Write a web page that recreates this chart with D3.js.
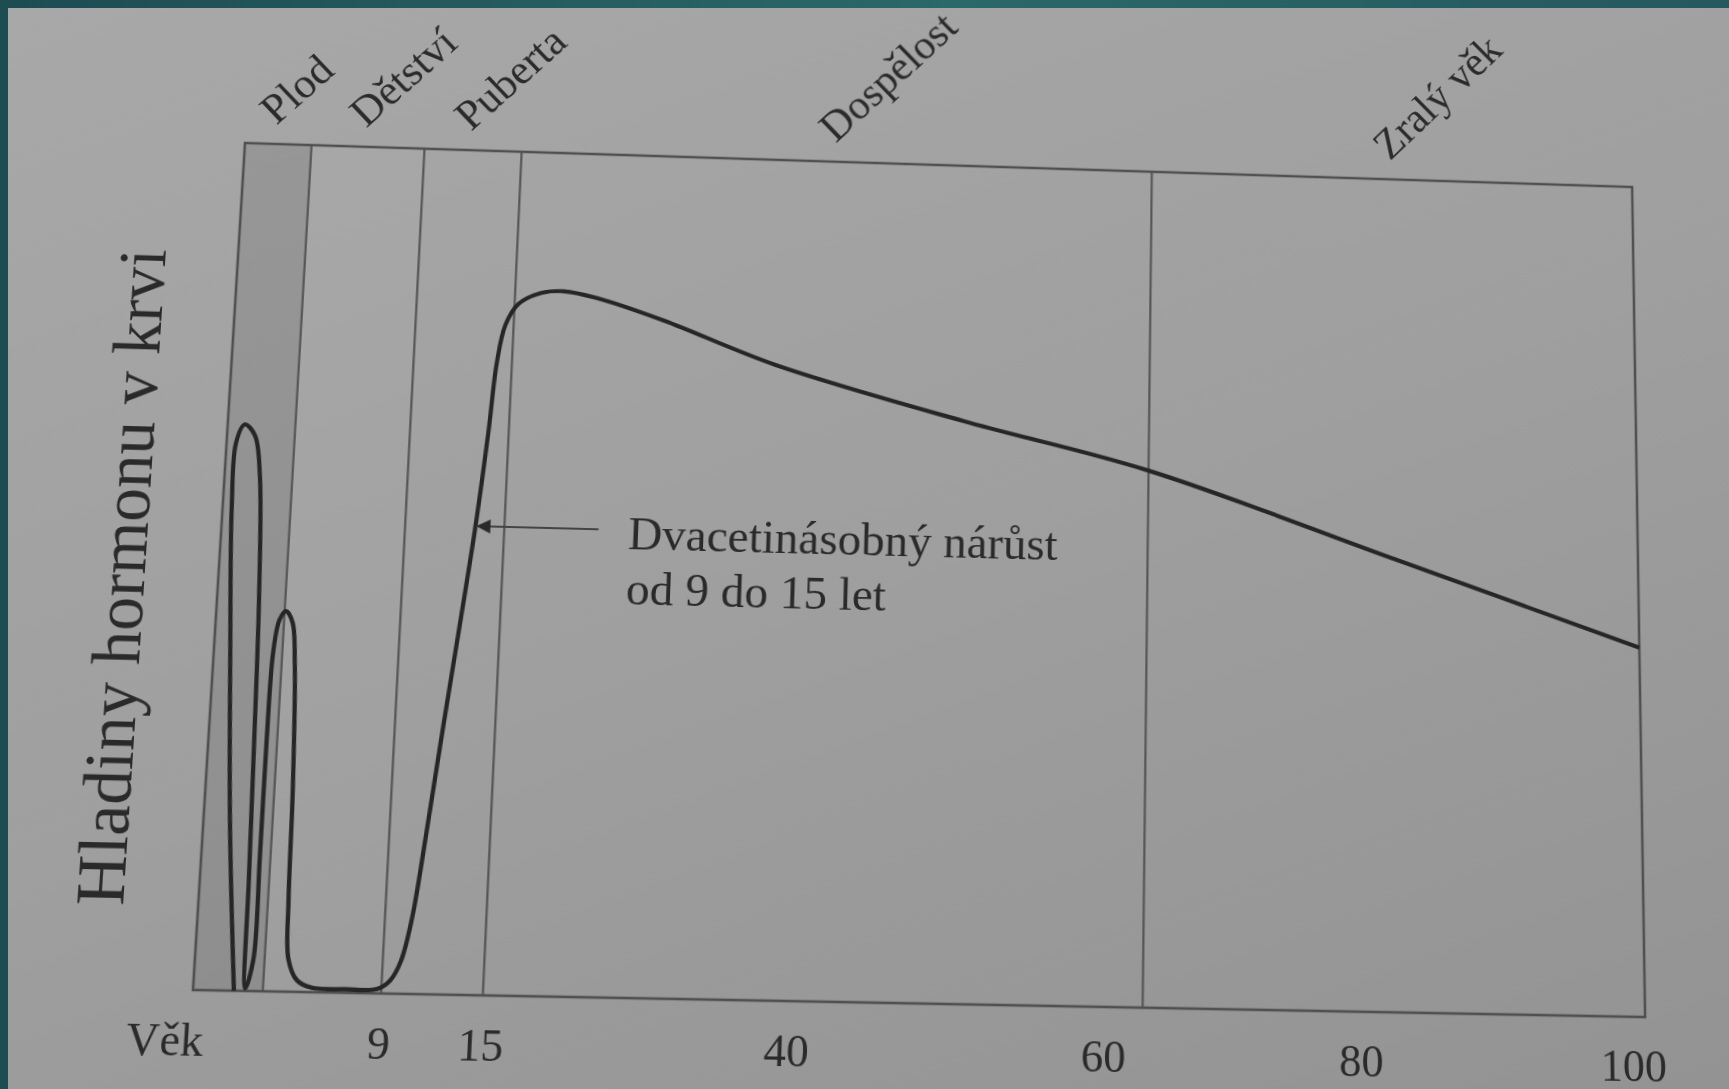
<!DOCTYPE html>
<html>
<head>
<meta charset="utf-8">
<script src="https://cdn.jsdelivr.net/npm/d3@7"></script>
<style>
  html, body { margin: 0; padding: 0; }
  body {
    width: 1729px; height: 1089px; overflow: hidden; position: relative;
    background: linear-gradient(90deg, #1d4c53, #2b6869 55%, #25585f);
  }
  #page {
    position: absolute; left: 8px; top: 8px; right: 0; bottom: 0;
    background: linear-gradient(160deg, #a8a8a8 0%, #9f9f9f 50%, #939393 100%);
  }
  #warp { position: absolute; left: 0; top: 0; transform-origin: 0 0; }
  #warp svg { position: absolute; overflow: visible; filter: blur(0.5px); }
</style>
</head>
<body>
<div id="page"></div>
<div id="warp"></div>
<script>
// Stages of life (age in years, negative = before birth)
var stageNames = ["Plod", "Dětství", "Puberta", "Dospělost", "Zralý věk"];
var stageEdges = [-0.75, 0, 9, 15, 63, 100];

// Axis
var tickAges = [9, 15, 40, 60, 80, 100];
var tickLabels = ["9", "15", "40", "60", "80", "100"];
var axisName = "Věk";
var yTitle = "Hladiny hormonu v krvi";

// Hormone level over life (age in years, level relative 0-100)
var curveAge = [-0.31, -0.46, -0.57, -0.65, -0.645, -0.56, -0.44, -0.36, -0.29, -0.25, -0.22, -0.19,
                -0.12, -0.115, -0.115, -0.10, -0.05, 0.11, 0.66, 1.02, 1.41, 1.57, 1.81, 2.55, 3.7, 6.2, 8.7,
                9.5, 10.07, 10.6, 11.2, 11.86, 12.55, 13.24, 13.76, 14.08, 14.5, 15.34, 17.2, 19.1, 21.95,
                27.7, 37.3, 50.3, 63, 82.4, 100];
var curveLevel = [0, 19, 39, 56, 63.6, 65.8, 64.5, 59.7, 45.4, 28.4, 12.8, 0.3,
                  3.6, 15.4, 28.4, 38.9, 42.8, 43.8, 42.5, 37.6, 23.2, 10.2, 3.7, 1.3, 0.5, 0.4, 0.5,
                  1.5, 3.7, 8.6, 18.4, 30.2, 42, 54.2, 65.6, 74.1, 78.7, 81.3, 82.7, 83, 82.3,
                  79.8, 74.8, 68.6, 63.2, 53.3, 43.4];

// Annotation
var noteLines = ["Dvacetinásobný nárůst", "od 9 do 15 let"];
var noteAge = 25.4, noteLevel = 52.2;
var arrowFromAge = 22.9, arrowToAge = 13.3, arrowLevel = 54.4;

// Flat chart box, later warped onto the photographed page
var W = 1420, H = 840, ox = 220, oy = 150;
var quad = [[245, 143], [1632, 187], [1645, 1017], [193, 990]];   // tl, tr, br, bl

function quadMatrix(w, h, q) {
    var x0 = q[0][0], y0 = q[0][1], x1 = q[1][0], y1 = q[1][1],
        x2 = q[2][0], y2 = q[2][1], x3 = q[3][0], y3 = q[3][1];
    var dx1 = x1 - x2, dy1 = y1 - y2, dx2 = x3 - x2, dy2 = y3 - y2;
    var sx = x0 - x1 + x2 - x3, sy = y0 - y1 + y2 - y3;
    var den = dx1 * dy2 - dx2 * dy1;
    var g = (sx * dy2 - dx2 * sy) / den, k = (dx1 * sy - sx * dy1) / den;
    var a = (x1 - x0 + g * x1) / w, b = (x3 - x0 + k * x3) / h,
        d = (y1 - y0 + g * y1) / w, e = (y3 - y0 + k * y3) / h;
    return "matrix3d(" + [a, d, 0, g / w, b, e, 0, k / h, 0, 0, 1, 0, x0, y0, 0, 1].join(",") + ")";
}

d3.select("#warp").style("transform", quadMatrix(W, H, quad));

var svg = d3.select("#warp")
            .append("svg")
            .attr("width", 1729)
            .attr("height", 1089)
            .style("left", -ox + "px")
            .style("top", -oy + "px")
            .append("g")
            .attr("transform", "translate(" + ox + "," + oy + ")");

// Scales (age axis is stretched piecewise, like the printed one)
var x = d3.scaleLinear()
          .domain([-0.75, 0, 9, 15, 40, 60, 80, 100])
          .range([0, 0.047, 0.127, 0.196, 0.404, 0.622, 0.801, 1].map(f => f * W));
var y = d3.scaleLinear().domain([0, 100]).range([H, 0]);

var ink = "#2a2a2a";
var font = "'Liberation Serif', 'Times New Roman', serif";

// Stage bands
var stages = stageNames.map((n, i) => ({name: n, from: stageEdges[i], to: stageEdges[i + 1]}));

svg.selectAll(".band")
   .data(stages)
   .enter().append("rect")
   .attr("class", "band")
   .attr("x", d => x(d.from))
   .attr("y", 0)
   .attr("width", d => x(d.to) - x(d.from))
   .attr("height", H)
   .attr("fill", (d, i) => i == 0 ? "#000" : "#fff")
   .attr("fill-opacity", (d, i) => i == 0 ? 0.09 : (i == 1 ? 0.02 : 0));

svg.selectAll(".edge")
   .data(stageEdges.slice(1, -1))
   .enter().append("line")
   .attr("x1", d => x(d)).attr("x2", d => x(d))
   .attr("y1", 0).attr("y2", H)
   .attr("stroke", "#555")
   .attr("stroke-width", 2.2);

svg.append("rect")
   .attr("width", W).attr("height", H)
   .attr("fill", "none")
   .attr("stroke", "#505050")
   .attr("stroke-width", 2.6);

// Stage names, slanted above the box
svg.selectAll(".stage")
   .data(stages)
   .enter().append("text")
   .attr("transform", d => "translate(" + ((x(d.from) + x(d.to)) / 2 - 3) + ",-19) rotate(-45)")
   .attr("font-family", font)
   .attr("font-size", 44)
   .attr("fill", ink)
   .text(d => d.name);

// Hormone curve
var pts = curveAge.map((a, i) => [a, curveLevel[i]]);
var line = d3.line()
             .x(d => x(d[0]))
             .y(d => y(d[1]))
             .curve(d3.curveCatmullRom.alpha(0.5));

svg.append("path")
   .attr("d", line(pts))
   .attr("fill", "none")
   .attr("stroke", "#262626")
   .attr("stroke-width", 4.2)
   .attr("stroke-linejoin", "round");

// Annotation arrow
svg.append("defs").append("marker")
   .attr("id", "head")
   .attr("viewBox", "0 0 10 10")
   .attr("refX", 10).attr("refY", 5)
   .attr("markerWidth", 7).attr("markerHeight", 7)
   .attr("orient", "auto")
   .append("path")
   .attr("d", "M0,0L10,5L0,10z")
   .attr("fill", ink);

svg.append("line")
   .attr("x1", x(arrowFromAge)).attr("x2", x(arrowToAge))
   .attr("y1", y(arrowLevel)).attr("y2", y(arrowLevel))
   .attr("stroke", "#444")
   .attr("stroke-width", 2)
   .attr("marker-end", "url(#head)");

svg.selectAll(".note")
   .data(noteLines)
   .enter().append("text")
   .attr("x", x(noteAge))
   .attr("y", (d, i) => y(noteLevel) + i * 55)
   .attr("font-family", font)
   .attr("font-size", 47)
   .attr("fill", ink)
   .text(d => d);

// Age axis labels
svg.selectAll(".tick")
   .data(tickAges)
   .enter().append("text")
   .attr("x", d => x(d) - (d == 100 ? 12 : 0))
   .attr("y", H + 62)
   .attr("text-anchor", "middle")
   .attr("font-family", font)
   .attr("font-size", 44)
   .attr("fill", ink)
   .text((d, i) => tickLabels[i]);

svg.append("text")
   .attr("x", -24)
   .attr("y", H + 62)
   .attr("text-anchor", "middle")
   .attr("font-family", font)
   .attr("font-size", 44)
   .attr("fill", ink)
   .text(axisName);

// Y title
svg.append("text")
   .attr("transform", "translate(-72," + y(48) + ") rotate(-90)")
   .attr("text-anchor", "middle")
   .attr("font-family", font)
   .attr("font-size", 67)
   .attr("fill", ink)
   .text(yTitle);
</script>
</body>
</html>
